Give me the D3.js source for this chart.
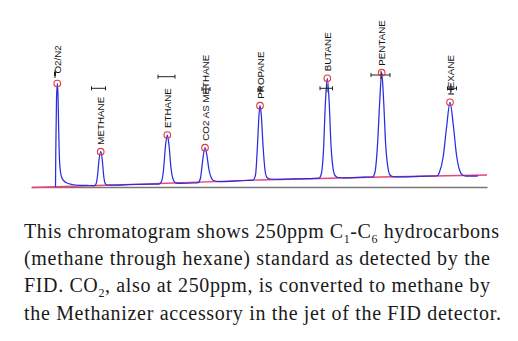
<!DOCTYPE html>
<html>
<head>
<meta charset="utf-8">
<script src="https://cdn.jsdelivr.net/npm/d3@7/dist/d3.min.js"></script>
<style>
  html, body { margin: 0; padding: 0; background: #fff; }
  svg { display: block; }
</style>
</head>
<body>
<svg id="chart" width="518" height="341"></svg>
<script>
// Retention time (s) and detector signal (mV) of the FID trace
const traceTime = [
  49, 49.6, 51, 52.6, 54, 55.4, 57, 59, 62, 66, 72, 82, 98, 118,
  127, 130, 133, 136, 139.4, 142.6, 145.2, 148, 152, 162, 198, 248,
  256, 261, 265, 269, 272.6, 276, 280, 284, 289, 298, 328,
  334, 339, 343, 348, 352, 356, 360, 365, 374, 388, 428,
  444, 449, 453, 456, 458, 460.6, 464, 468, 472, 478, 498, 538, 568,
  576, 581, 585, 588.6, 592.6, 596.6, 600, 604, 608, 614, 628, 658,
  683, 688, 693, 697.6, 701.4, 705.2, 709.4, 714, 718, 724, 738, 778, 812,
  817, 824, 831, 838, 844.6, 851, 857, 863, 870, 888, 894
];
const traceSignal = [
  0, 37, 87, 103.5, 92, 57, 27, 15, 9, 6, 4, 2.5, 1.7, 1.5,
  1.4, 3, 11, 27, 35.3, 27, 12, 4, 2, 1.8, 2.5, 3,
  3, 5.5, 17, 41, 52, 42, 19, 8, 4.2, 3.7, 4,
  4.3, 9, 25, 39.3, 31, 17, 10, 6.5, 5.5, 5.5, 6.5,
  6.8, 12, 42, 72, 81.3, 72, 42, 17, 9.5, 8, 7.7, 8.2, 8.6,
  8.8, 14, 37, 82, 108.7, 82, 42, 19, 11.5, 9.5, 9.2, 9.7,
  10, 15, 42, 87, 114.3, 87, 42, 19, 12, 10.4, 10.2, 10.7, 11,
  15, 29, 59, 84.7, 62, 32, 17, 12, 11, 11, 11.2
];

// Drawn integration baseline
const baseTime = [2, 100, 200, 456, 700, 912];
const baseSignal = [-0.5, 1, 2.5, 7, 10, 12];

// Identified peaks
const peakNames = ["O2/N2", "METHANE", "ETHANE", "CO2 AS METHANE", "PROPANE", "BUTANE", "PENTANE", "HEXANE"];
const peakTime = [52.6, 139.4, 272.6, 348, 458, 592.6, 701.4, 838];
const peakHeight = [103.5, 35.3, 52, 39.3, 81.3, 108.7, 114.3, 84.7];

// Expected retention windows for each component
const windowStart = [47, 121, 254, 342, 454, 578, 680, 833];
const windowEnd = [49, 149, 288, 358, 462, 603, 718, 851];
const windowLevel = [113, 98.7, 110.3, 98, 97, 98.7, 112, 98.7];
const windowCenter = [48, null, null, 350, 458, 592, 700, 840];

const svg = d3.select("#chart");
const x = d3.scaleLinear().domain([0, 912]).range([31, 487]);
const y = d3.scaleLinear().domain([0, 160]).range([187, 27]);

// Time axis line
const axis = svg.append("g")
  .attr("transform", `translate(0,${y(0)})`)
  .call(d3.axisBottom(x).tickValues([]).tickSizeOuter(0));
axis.select(".domain").attr("stroke", "#777").attr("stroke-width", 1.6);

// Baseline
const base = d3.zip(baseTime, baseSignal);
svg.append("path")
  .datum(base)
  .attr("fill", "none")
  .attr("stroke", "#e8457a")
  .attr("stroke-width", 1.3)
  .attr("d", d3.line().x(d => x(d[0])).y(d => y(d[1])));

// Detector trace
const trace = d3.zip(traceTime, traceSignal);
svg.append("path")
  .datum(trace)
  .attr("fill", "none")
  .attr("stroke", "#2b2be0")
  .attr("stroke-width", 1.25)
  .attr("stroke-linejoin", "round")
  .attr("d", d3.line().x(d => x(d[0])).y(d => y(d[1])).curve(d3.curveMonotoneX));

// Retention windows
const win = svg.append("g").attr("stroke", "#222").attr("stroke-width", 1);
windowStart.forEach((s, i) => {
  const yy = y(windowLevel[i]);
  const x0 = x(s), x1 = x(windowEnd[i]);
  win.append("line").attr("x1", x0).attr("x2", x1).attr("y1", yy).attr("y2", yy);
  win.append("line").attr("x1", x0).attr("x2", x0).attr("y1", yy - 2).attr("y2", yy + 2);
  win.append("line").attr("x1", x1).attr("x2", x1).attr("y1", yy - 2).attr("y2", yy + 2);
  if (windowCenter[i] !== null) {
    const xc = x(windowCenter[i]);
    win.append("line").attr("x1", xc).attr("x2", xc).attr("y1", yy - 4).attr("y2", yy + 4);
  }
});

// Peak apex markers
svg.append("g").selectAll("circle")
  .data(peakTime)
  .join("circle")
  .attr("cx", d => x(d))
  .attr("cy", (d, i) => y(peakHeight[i]))
  .attr("r", 3.3)
  .attr("fill", "none")
  .attr("stroke", "#e03a3a")
  .attr("stroke-width", 1.1);

// Peak names, written upward above each apex
svg.append("g").selectAll("text")
  .data(peakNames)
  .join("text")
  .attr("transform", (d, i) => `translate(${x(peakTime[i])},${y(peakHeight[i]) - (i === 0 ? 10 : 7)}) rotate(-90)`)
  .attr("dy", "0.36em")
  .attr("font-family", "Liberation Sans, Arial, sans-serif")
  .attr("font-size", 9.8)
  .attr("fill", "#111")
  .text(d => d);

// Caption, one text element per line, each stretched to its line width
const captionLines = [
  [["This chromatogram shows 250ppm C", 0], ["1", 1], ["-C", 0], ["6", 1], [" hydrocarbons", 0]],
  [["(methane through hexane) standard as detected by the", 0]],
  [["FID. CO", 0], ["2", 1], [", also at 250ppm, is converted to methane by", 0]],
  [["the Methanizer accessory in the jet of the FID detector.", 0]]
];
const captionWidths = [475, 466, 466, 477];
const caption = svg.append("g")
  .attr("font-family", "Liberation Serif, Times New Roman, serif")
  .attr("font-size", 20)
  .attr("fill", "#1a1a1a");
captionLines.forEach((parts, li) => {
  const t = caption.append("text")
    .attr("x", 24)
    .attr("y", 238 + li * 27.2)
    .attr("textLength", captionWidths[li])
    .attr("lengthAdjust", "spacing");
  parts.forEach(([s, sub], k) => {
    const ts = t.append("tspan").text(s);
    if (sub) ts.attr("font-size", 12).attr("dy", 5);
    else if (k > 0 && parts[k - 1][1] === 1) ts.attr("dy", -5);
  });
});
</script>
</body>
</html>
